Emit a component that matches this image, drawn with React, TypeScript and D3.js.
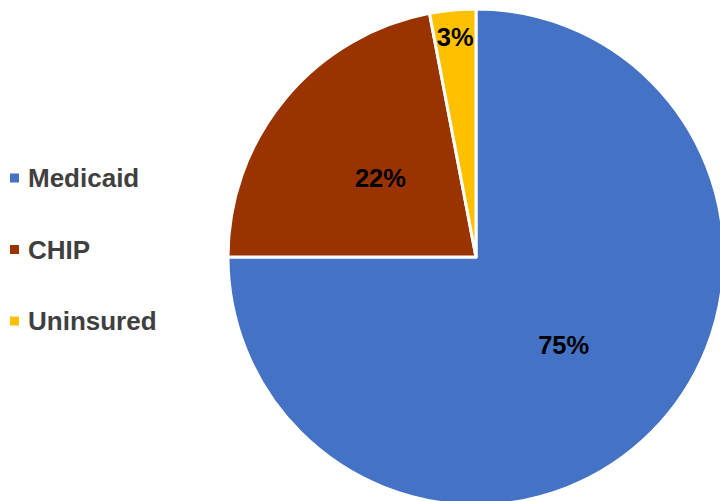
import React, { useEffect, useRef } from 'react';
import * as d3 from 'd3';

// Chart data
const categories = ['Medicaid', 'CHIP', 'Uninsured'];
const values = [75, 22, 3];
const colors = ['#4472C4', '#993300', '#FFC000'];

const App: React.FC = () => {
  const chartRef = useRef<SVGSVGElement>(null);

  useEffect(() => {
    if (!chartRef.current) return;
    const svg = d3.select(chartRef.current);
    svg.selectAll('*').remove();

    const cx = 476;
    const cy = 257;
    const radius = 248;

    const pie = d3.pie<number>().sort(null).value(d => d);
    const arcs = pie(values);
    const arc = d3.arc<d3.PieArcDatum<number>>().innerRadius(0).outerRadius(radius);

    const g = svg.append('g').attr('transform', `translate(${cx},${cy})`);

    // Slices
    g.selectAll('path').data(arcs).enter().append('path')
      .attr('d', arc)
      .attr('fill', (_, i) => colors[i])
      .attr('stroke', '#ffffff')
      .attr('stroke-width', 3)
      .attr('stroke-linejoin', 'round');

    // Data labels - small slices pushed outward
    g.selectAll('text.lbl').data(arcs).enter().append('text')
      .attr('class', 'lbl')
      .attr('transform', d => {
        const share = (d.endAngle - d.startAngle) / (2 * Math.PI);
        const r = share < 0.05 ? radius * 0.89 : radius * 0.5;
        const a = (d.startAngle + d.endAngle) / 2;
        return `translate(${Math.sin(a) * r},${-Math.cos(a) * r})`;
      })
      .attr('text-anchor', 'middle')
      .attr('dy', '0.36em')
      .style('font-family', '"Liberation Sans", Arial, sans-serif')
      .style('font-weight', 'bold')
      .style('font-size', '25.5px')
      .style('fill', '#000000')
      .text(d => `${d.data}%`);

    // Legend
    const legendY = d3.scalePoint<string>().domain(categories).range([178, 321]);
    const legend = svg.append('g');
    categories.forEach((c, i) => {
      const y = legendY(c) || 0;
      legend.append('rect')
        .attr('x', 10).attr('y', y - 4.5)
        .attr('width', 9).attr('height', 9)
        .attr('fill', colors[i]);
      legend.append('text')
        .attr('x', 28).attr('y', y)
        .attr('dy', '0.36em')
        .style('font-family', '"Liberation Sans", Arial, sans-serif')
        .style('font-weight', 'bold')
        .style('font-size', '26px')
        .style('fill', '#404040')
        .text(c);
    });
  }, []);

  return (
    <svg ref={chartRef} width={720} height={501}
      style={{ position: 'absolute', left: 0, top: 0, background: '#ffffff' }} />
  );
};

export default App;
